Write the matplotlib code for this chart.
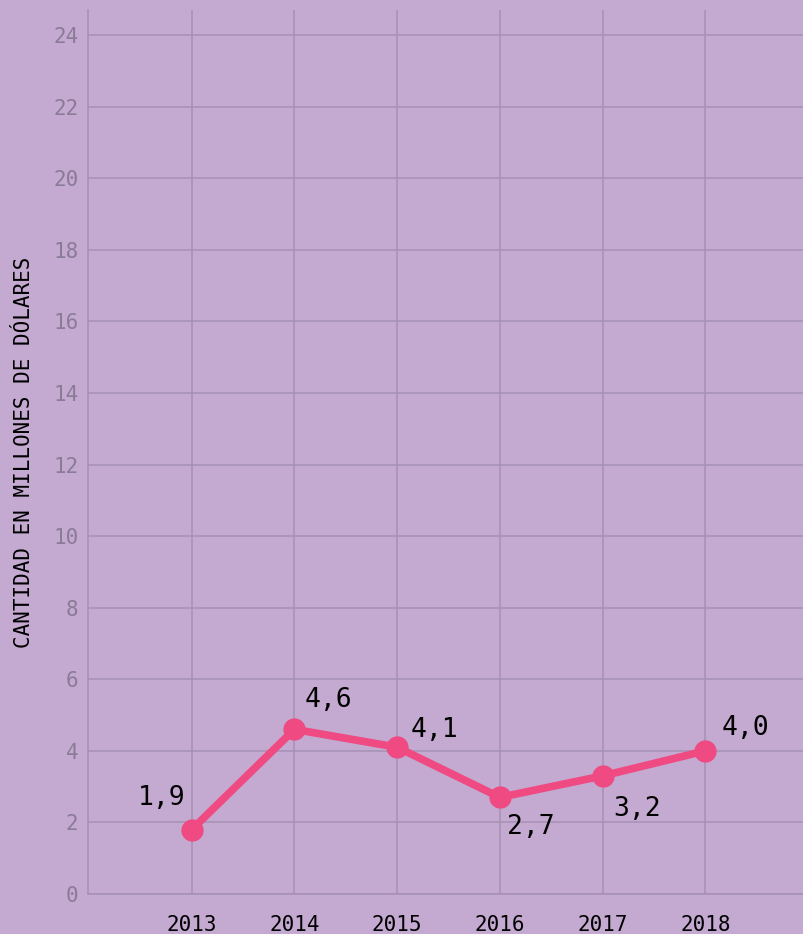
import matplotlib
matplotlib.use('Agg')
import matplotlib.pyplot as plt

years = [2013, 2014, 2015, 2016, 2017, 2018]
amounts = [1.8, 4.6, 4.1, 2.7, 3.3, 4.0]
point_labels = ['1,9', '4,6', '4,1', '2,7', '3,2', '4,0']
# label offsets in pixels (dx, dy)
offsets = [(-30, 32), (34, 29), (37, 17), (31, -30), (34, -33), (40, 23)]

bg = '#c4a9d1'
grid = '#a591b4'

plt.rcParams['font.family'] = ['DejaVu Sans Mono']

fig = plt.figure(figsize=(8.04, 9.34), dpi=100, facecolor=bg)
ax = fig.add_axes([88/804, 40/934, 716/804, 884/934])
ax.set_facecolor(bg)

ax.plot(years, amounts, color='#ef4a81', linewidth=5.5, marker='o', markersize=15, zorder=3)

for x, y, lab, (dx, dy) in zip(years, amounts, point_labels, offsets):
    ax.annotate(lab, (x, y), xytext=(dx, dy), textcoords='offset pixels',
                ha='center', va='center', fontsize=19, color='black')

ax.set_xlim(2011.99, 2018.96)
ax.set_ylim(0, 24.7)
ax.set_yticks(range(0, 25, 2))
ax.set_xticks(years)
ax.grid(True, color=grid, linewidth=1.1)
ax.set_axisbelow(True)
for s in ['top', 'right']:
    ax.spines[s].set_visible(False)
for s in ['left', 'bottom']:
    ax.spines[s].set_color(grid)
    ax.spines[s].set_linewidth(1.1)
ax.tick_params(axis='y', length=0, pad=7, labelsize=15, labelcolor='#8a7b97')
ax.tick_params(axis='x', length=0, pad=15, labelsize=15, labelcolor='black')
ax.set_ylabel('CANTIDAD EN MILLONES DE DÓLARES', fontsize=15, color='black', labelpad=14)

fig.savefig('out.png', dpi=100, facecolor=bg)
